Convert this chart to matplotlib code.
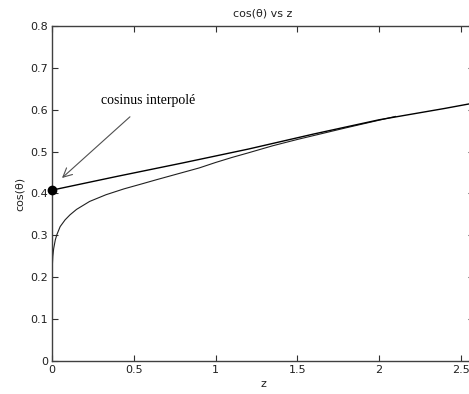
import matplotlib
matplotlib.use("Agg")
import matplotlib.pyplot as plt

# courbe interpolée (quasi droite depuis le point z=0)
z_interp = [0, 0.4, 0.8, 1.2, 1.6, 2.0, 2.4, 2.58]
cos_interp = [0.408, 0.441, 0.473, 0.506, 0.542, 0.576, 0.603, 0.616]

# courbe mesurée
z_curve = [0, 0.002, 0.005, 0.01, 0.02, 0.03, 0.05, 0.08, 0.11, 0.15, 0.23, 0.33,
           0.44, 0.55, 0.64, 0.77, 0.9, 1.0, 1.1, 1.2, 1.35, 1.5, 1.8, 2.1]
cos_curve = [0.20, 0.228, 0.25, 0.268, 0.289, 0.302, 0.321, 0.337, 0.349, 0.362, 0.381, 0.397,
             0.411, 0.423, 0.433, 0.447, 0.461, 0.474, 0.486, 0.497, 0.514, 0.529, 0.557, 0.584]

# point de départ
z_point = [0]
cos_point = [0.408]

x_ticks = [0, 0.5, 1, 1.5, 2, 2.5]
y_ticks = [0, 0.1, 0.2, 0.3, 0.4, 0.5, 0.6, 0.7, 0.8]

fig = plt.figure(figsize=(4.69, 3.94), dpi=100)
ax = fig.add_axes([0.1109, 0.0838, 0.8998, 0.8503])

ax.plot(z_curve, cos_curve, color="#202020", linewidth=0.8)
ax.plot(z_interp, cos_interp, color="black", linewidth=1.0)
ax.plot(z_point, cos_point, "o", color="black", markersize=6, clip_on=False, zorder=5)

ax.set_xlim(0, 2.58)
ax.set_ylim(0, 0.8)
ax.set_xticks(x_ticks)
ax.set_xticklabels(["0", "0.5", "1", "1.5", "2", "2.5"])
ax.set_yticks(y_ticks)
ax.set_yticklabels(["0", "0.1", "0.2", "0.3", "0.4", "0.5", "0.6", "0.7", "0.8"])
ax.tick_params(direction="in", length=4, labelsize=8, top=True, right=True,
               color="#303030", labelcolor="#202020", pad=3)
for side in ax.spines.values():
    side.set_color("#404040")
    side.set_linewidth(1.0)

ax.set_xlabel("z", fontsize=8, color="#202020", labelpad=3)
ax.set_ylabel("cos(θ)", fontsize=8, color="#202020", labelpad=4)
ax.set_title("cos(θ) vs z", fontsize=8, color="#202020", pad=7)

# annotation
ax.annotate("cosinus interpolé", xy=(0.061, 0.437), xytext=(0.59, 0.623),
            ha="center", va="center", fontsize=10, family="Liberation Serif",
            arrowprops=dict(arrowstyle="->", color="#505050", lw=0.8,
                            shrinkA=8, shrinkB=0, mutation_scale=16))

fig.savefig("out.png", dpi=100)
